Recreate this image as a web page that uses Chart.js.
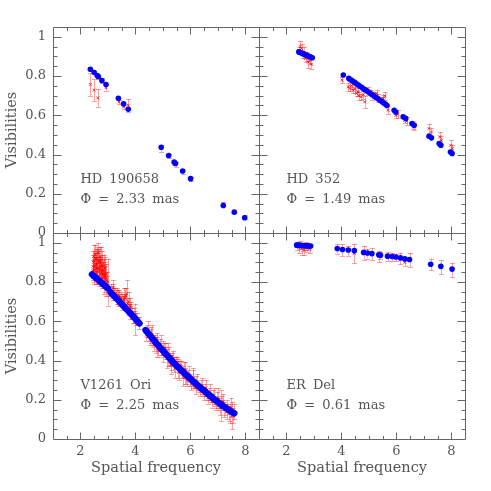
<!DOCTYPE html>
<html><head><meta charset="utf-8">
<script src="https://cdn.jsdelivr.net/npm/chart.js@4.4.1/dist/chart.umd.min.js"></script>
<style>
html,body{margin:0;padding:0;background:#fff}
#wrap{position:relative;width:491px;height:491px;background:#fff}
canvas{position:absolute;left:0;top:0}
</style>
</head><body>
<div id="wrap">
<canvas id="c0" width="491" height="491"></canvas>
<canvas id="c1" width="491" height="491"></canvas>
<canvas id="c2" width="491" height="491"></canvas>
<canvas id="c3" width="491" height="491"></canvas>
</div>
<script>
// ---------- tick labels ----------
const xTicks = [2, 4, 6, 8];
const xTickLabels = ['2', '4', '6', '8'];
const yTicks = [0, 0.2, 0.4, 0.6, 0.8, 1];
const yTickLabels = ['0', '0.2', '0.4', '0.6', '0.8', '1'];
const xTitle = 'Spatial frequency';
const yTitle = 'Visibilities';

const starNames = ['HD 190658', 'HD 352', 'V1261 Ori', 'ER Del'];
const diameters = ['\u03A6 = 2.33 mas', '\u03A6 = 1.49 mas', '\u03A6 = 2.25 mas', '\u03A6 = 0.61 mas'];

// ---------- HD 190658 ----------
const hd190658ModelX = [2.36, 2.50, 2.61, 2.65, 2.78, 2.93, 3.38, 3.57, 3.74, 4.94, 5.21, 5.41, 5.46, 5.72, 6.01, 7.20, 7.60, 7.98];
const hd190658ModelV = [0.835, 0.818, 0.803, 0.798, 0.777, 0.757, 0.687, 0.658, 0.631, 0.437, 0.395, 0.362, 0.354, 0.316, 0.277, 0.140, 0.106, 0.078];
const hd190658ObsX = [2.36, 2.50, 2.63, 2.65, 2.78, 2.93, 3.40, 3.57, 3.74, 4.94, 5.21, 5.41, 5.46, 5.72, 6.01, 7.20, 7.60, 7.98];
const hd190658ObsV = [0.757, 0.728, 0.689, 0.795, 0.777, 0.740, 0.668, 0.643, 0.651, 0.430, 0.392, 0.358, 0.350, 0.313, 0.273, 0.148, 0.110, 0.082];
const hd190658ObsErr = [0.058, 0.055, 0.045, 0.010, 0.012, 0.015, 0.012, 0.010, 0.032, 0.018, 0.012, 0.012, 0.012, 0.010, 0.010, 0.010, 0.010, 0.010];

// ---------- HD 352 ----------
const hd352ModelX = [2.45, 2.50, 2.56, 2.61, 2.67, 2.72, 2.78, 2.83, 2.89, 2.94,
  4.07, 4.27, 4.34, 4.41, 4.48, 4.55, 4.62, 4.69, 4.76, 4.83, 4.90, 4.97, 5.04, 5.11, 5.18, 5.25, 5.32, 5.39, 5.46, 5.53, 5.60, 5.66,
  5.92, 5.98, 6.25, 6.34, 6.57, 6.65, 7.19, 7.28, 7.56, 7.62, 7.97, 8.03];
const hd352ModelV = [0.923, 0.920, 0.917, 0.913, 0.910, 0.907, 0.903, 0.900, 0.897, 0.893,
  0.805, 0.788, 0.781, 0.775, 0.768, 0.761, 0.754, 0.747, 0.740, 0.733, 0.727, 0.720, 0.713, 0.706, 0.699, 0.692, 0.685, 0.678, 0.671, 0.664, 0.657, 0.650,
  0.626, 0.617, 0.592, 0.584, 0.558, 0.549, 0.493, 0.485, 0.456, 0.447, 0.413, 0.405];
const hd352ObsX = [2.45, 2.50, 2.55, 2.60, 2.65, 2.70, 2.75, 2.80, 2.85, 2.90,
  4.03, 4.25, 4.31, 4.37, 4.43, 4.50, 4.55, 4.60, 4.64, 4.73, 4.80, 4.85, 4.97, 5.07, 5.12, 5.19, 5.28, 5.35, 5.46, 5.52, 5.58, 5.70,
  5.98, 6.05, 6.31, 6.38, 6.64, 6.60, 7.19, 7.28, 7.58, 7.64, 7.98, 8.03];
const hd352ObsV = [0.930, 0.950, 0.940, 0.910, 0.920, 0.890, 0.900, 0.870, 0.880, 0.860,
  0.779, 0.745, 0.737, 0.752, 0.728, 0.735, 0.711, 0.720, 0.699, 0.694, 0.705, 0.668, 0.723, 0.716, 0.700, 0.706, 0.711, 0.690, 0.677, 0.685, 0.699, 0.626,
  0.600, 0.605, 0.575, 0.570, 0.541, 0.550, 0.533, 0.515, 0.490, 0.473, 0.447, 0.431];
const hd352ObsErr = [0.020, 0.030, 0.025, 0.020, 0.030, 0.020, 0.025, 0.030, 0.020, 0.025,
  0.015, 0.020, 0.015, 0.020, 0.015, 0.020, 0.015, 0.020, 0.020, 0.015, 0.020, 0.030, 0.020, 0.015, 0.020, 0.015, 0.020, 0.020, 0.015, 0.020, 0.020, 0.020,
  0.015, 0.020, 0.015, 0.020, 0.015, 0.020, 0.025, 0.020, 0.025, 0.020, 0.025, 0.020];

// ---------- V1261 Ori (model curve in three pieces, null = gap) ----------
const v1261ModelX = [2.42, 2.55, 2.70, 2.85, 3.00, 3.05,
  3.10, 3.30, 3.50, 3.70, 3.90, 4.15, 4.26,
  4.37, 4.60, 4.88, 5.10, 5.36, 5.60, 5.85, 6.10, 6.33, 6.60, 6.85, 7.06, 7.30, 7.60];
const v1261ModelV = [0.839, 0.823, 0.805, 0.786, 0.768, null,
  0.747, 0.718, 0.688, 0.658, 0.628, 0.589, null,
  0.555, 0.516, 0.470, 0.435, 0.394, 0.360, 0.327, 0.295, 0.266, 0.235, 0.205, 0.182, 0.158, 0.131];
const v1261ObsX = [2.45, 2.47, 2.50, 2.52, 2.55, 2.57, 2.60, 2.62, 2.65, 2.67, 2.70, 2.72, 2.75, 2.77, 2.80, 2.82, 2.85, 2.87, 2.90, 2.92, 2.95, 2.97, 3.00, 2.48, 2.58, 2.68, 2.78, 2.88,
  2.46, 2.49, 2.51, 2.54, 2.56, 2.59, 2.61, 2.64, 2.66, 2.69, 2.71, 2.74, 2.76, 2.79, 2.81, 2.84, 2.86, 2.89, 2.91, 2.94,
  3.12, 3.18, 3.22, 3.28, 3.32, 3.38, 3.42, 3.48, 3.52, 3.58, 3.62, 3.68, 3.72, 3.78, 3.82, 3.88, 3.92, 3.98, 4.02, 4.08, 4.12,
  3.15, 3.25, 3.35, 3.45, 3.55, 3.65, 3.75, 3.85, 3.95, 4.05, 3.20, 3.40, 3.60, 3.80, 4.00,
  4.42, 4.50, 4.58, 4.65, 4.72, 4.80, 4.88, 4.95, 5.02, 5.10, 5.18, 5.25, 5.32, 5.40, 5.48, 5.55, 5.62, 5.70, 5.78, 5.85, 5.92, 6.00, 6.08, 6.15, 6.22, 6.30, 6.38, 6.45, 6.52, 6.60, 6.68, 6.75, 6.82, 6.90, 6.98, 7.05, 7.12, 7.20, 7.28, 7.35, 7.45, 7.52, 7.58, 4.55, 4.75, 5.05, 5.30, 5.58, 5.80,
  4.40, 4.47, 4.54, 4.62, 4.69, 4.77, 4.84, 4.92, 4.99, 5.07, 5.14, 5.22, 5.29, 5.37, 5.44, 5.52, 5.59, 5.67, 5.74, 5.82, 5.89, 5.96, 6.04, 6.11, 6.19, 6.26, 6.34, 6.42, 6.49, 6.56, 6.64, 6.71, 6.79, 6.86, 6.94, 7.02, 7.09, 7.16, 7.24, 7.32, 7.40, 7.48, 7.55];
const v1261ObsV = [0.86, 0.90, 0.84, 0.88, 0.92, 0.85, 0.89, 0.83, 0.91, 0.87, 0.86, 0.93, 0.84, 0.88, 0.82, 0.86, 0.80, 0.85, 0.83, 0.79, 0.81, 0.78, 0.80, 0.93, 0.87, 0.90, 0.85, 0.84,
  0.88, 0.91, 0.86, 0.94, 0.89, 0.92, 0.87, 0.95, 0.85, 0.90, 0.88, 0.91, 0.86, 0.89, 0.84, 0.88, 0.83, 0.87, 0.82, 0.84,
  0.76, 0.75, 0.74, 0.74, 0.73, 0.72, 0.71, 0.72, 0.70, 0.71, 0.72, 0.74, 0.69, 0.66, 0.65, 0.64, 0.62, 0.61, 0.61, 0.60, 0.59,
  0.75, 0.74, 0.72, 0.71, 0.70, 0.73, 0.70, 0.67, 0.63, 0.61, 0.77, 0.73, 0.72, 0.68, 0.62,
  0.55, 0.52, 0.53, 0.50, 0.51, 0.47, 0.48, 0.45, 0.46, 0.44, 0.43, 0.40, 0.42, 0.38, 0.39, 0.36, 0.37, 0.33, 0.35, 0.31, 0.33, 0.30, 0.31, 0.28, 0.29, 0.26, 0.27, 0.24, 0.25, 0.22, 0.23, 0.21, 0.22, 0.19, 0.20, 0.18, 0.17, 0.19, 0.15, 0.14, 0.13, 0.12, 0.14, 0.53, 0.48, 0.46, 0.38, 0.37, 0.32,
  0.53, 0.56, 0.51, 0.53, 0.48, 0.50, 0.45, 0.48, 0.43, 0.46, 0.41, 0.43, 0.38, 0.41, 0.36, 0.39, 0.34, 0.37, 0.32, 0.35, 0.30, 0.33, 0.28, 0.31, 0.26, 0.29, 0.25, 0.27, 0.23, 0.26, 0.21, 0.24, 0.19, 0.22, 0.18, 0.21, 0.16, 0.19, 0.15, 0.17, 0.13, 0.16, 0.12];
const v1261ObsErr = [0.05, 0.06, 0.04, 0.07, 0.05, 0.06, 0.08, 0.04, 0.06, 0.05, 0.07, 0.05, 0.06, 0.08, 0.05, 0.04, 0.06, 0.07, 0.05, 0.06, 0.04, 0.05, 0.12, 0.06, 0.05, 0.07, 0.05, 0.06,
  0.06, 0.05, 0.07, 0.05, 0.06, 0.06, 0.08, 0.05, 0.07, 0.06, 0.05, 0.07, 0.06, 0.05, 0.07, 0.06, 0.05, 0.06, 0.07, 0.05,
  0.03, 0.04, 0.03, 0.02, 0.04, 0.03, 0.02, 0.03, 0.04, 0.03, 0.05, 0.07, 0.03, 0.03, 0.04, 0.03, 0.03, 0.08, 0.03, 0.02, 0.03,
  0.03, 0.03, 0.04, 0.03, 0.03, 0.04, 0.05, 0.03, 0.04, 0.03, 0.04, 0.03, 0.05, 0.04, 0.03,
  0.03, 0.02, 0.04, 0.03, 0.02, 0.05, 0.03, 0.02, 0.04, 0.03, 0.06, 0.03, 0.02, 0.04, 0.03, 0.05, 0.03, 0.02, 0.04, 0.03, 0.02, 0.03, 0.04, 0.02, 0.03, 0.02, 0.03, 0.02, 0.03, 0.02, 0.03, 0.02, 0.03, 0.02, 0.04, 0.03, 0.08, 0.04, 0.03, 0.04, 0.05, 0.07, 0.04, 0.03, 0.04, 0.03, 0.05, 0.03, 0.04,
  0.03, 0.04, 0.03, 0.05, 0.03, 0.04, 0.03, 0.05, 0.04, 0.03, 0.05, 0.04, 0.03, 0.04, 0.05, 0.03, 0.04, 0.03, 0.05, 0.04, 0.03, 0.04, 0.03, 0.05, 0.03, 0.04, 0.03, 0.04, 0.03, 0.04, 0.03, 0.04, 0.03, 0.04, 0.03, 0.05, 0.04, 0.03, 0.04, 0.03, 0.04, 0.05, 0.04];

// ---------- ER Del ----------
const erDelModelX = [2.37, 2.42, 2.47, 2.52, 2.57, 2.62, 2.67, 2.72, 2.77, 2.82, 2.88,
  3.85, 4.04, 4.25, 4.47, 4.81, 4.95, 5.11, 5.36, 5.42, 5.68, 5.85, 5.98, 6.15, 6.31, 6.48, 7.25, 7.62, 8.03];
const erDelModelV = [0.988, 0.988, 0.987, 0.987, 0.986, 0.986, 0.985, 0.985, 0.985, 0.984, 0.984,
  0.971, 0.966, 0.963, 0.960, 0.951, 0.948, 0.945, 0.939, 0.937, 0.932, 0.930, 0.928, 0.923, 0.918, 0.915, 0.891, 0.880, 0.866];
const erDelObsX = [2.40, 2.45, 2.50, 2.55, 2.60, 2.65, 2.70, 2.75, 2.80, 2.85,
  3.85, 4.04, 4.25, 4.47, 4.81, 4.95, 5.11, 5.36, 5.42, 5.68, 5.85, 5.98, 6.15, 6.31, 6.48, 7.25, 7.62, 8.03];
const erDelObsV = [0.985, 0.975, 0.990, 0.970, 0.980, 0.965, 0.985, 0.975, 0.980, 0.970,
  0.970, 0.963, 0.960, 0.946, 0.949, 0.945, 0.942, 0.930, 0.935, 0.930, 0.928, 0.925, 0.920, 0.900, 0.912, 0.890, 0.875, 0.862];
const erDelObsErr = [0.020, 0.025, 0.020, 0.030, 0.020, 0.025, 0.020, 0.020, 0.015, 0.020,
  0.025, 0.030, 0.025, 0.050, 0.035, 0.025, 0.030, 0.030, 0.020, 0.023, 0.020, 0.020, 0.030, 0.020, 0.035, 0.030, 0.035, 0.035];

// ---------- styling ----------
const FONT = 'DejaVu Serif';
const TEXT = '#555555';
const FRAME = '#666666';
const BLUE = '#0000ff';

function pts(xs, ys) { return xs.map((x, i) => ({ x: x, y: ys[i] })); }

const errorBarPlugin = {
  id: 'errorBars',
  beforeDatasetsDraw(chart) {
    const { ctx } = chart;
    const xs = chart.scales.x, ys = chart.scales.y;
    ctx.save();
    chart.data.datasets.forEach(ds => {
      if (!ds.errors) return;
      ctx.strokeStyle = 'rgba(255,30,30,0.42)';
      ctx.lineWidth = 1;
      ctx.beginPath();
      ds.data.forEach((p, i) => {
        const e = ds.errors[i];
        const px = Math.round(xs.getPixelForValue(p.x)) + 0.5;
        const y1 = ys.getPixelForValue(p.y - e), y2 = ys.getPixelForValue(p.y + e);
        ctx.moveTo(px, y1); ctx.lineTo(px, y2);
        ctx.moveTo(px - 2.5, Math.round(y1) + 0.5); ctx.lineTo(px + 2.5, Math.round(y1) + 0.5);
        ctx.moveTo(px - 2.5, Math.round(y2) + 0.5); ctx.lineTo(px + 2.5, Math.round(y2) + 0.5);
      });
      ctx.stroke();
    });
    ctx.restore();
  }
};

const framePlugin = {
  id: 'frameTicks',
  afterDatasetsDraw(chart) {
    const { ctx, chartArea: a } = chart;
    const xs = chart.scales.x, ys = chart.scales.y;
    ctx.save();
    ctx.strokeStyle = FRAME;
    ctx.lineWidth = 1;
    ctx.beginPath();
    const L = a.left + 0.5, R = a.right + 0.5, T = a.top + 0.5, B = a.bottom + 0.5;
    ctx.rect(L, T, R - L, B - T);
    for (let i = 3; i <= 16; i++) {
      const v = i / 2;
      const len = (i % 4 === 0) ? 7 : 3.5;
      const px = Math.round(xs.getPixelForValue(v)) + 0.5;
      ctx.moveTo(px, B); ctx.lineTo(px, B - len);
      ctx.moveTo(px, T); ctx.lineTo(px, T + len);
    }
    for (let i = 1; i <= 20; i++) {
      const v = i * 0.05;
      const len = (i % 4 === 0) ? 8 : 4;
      const py = Math.round(ys.getPixelForValue(v)) + 0.5;
      ctx.moveTo(L, py); ctx.lineTo(L + len, py);
      ctx.moveTo(R, py); ctx.lineTo(R - len, py);
    }
    ctx.stroke();
    ctx.restore();
  }
};

const labelPlugin = {
  id: 'starLabel',
  afterDraw(chart) {
    const o = chart.options.plugins.starLabel;
    if (!o) return;
    const { ctx } = chart;
    const xs = chart.scales.x, ys = chart.scales.y;
    ctx.save();
    ctx.fillStyle = TEXT;
    ctx.font = '13px "' + FONT + '"';
    try { ctx.wordSpacing = '3px'; } catch (e) {}
    ctx.textAlign = 'left';
    ctx.textBaseline = 'middle';
    ctx.fillText(o.name, xs.getPixelForValue(2.0), ys.getPixelForValue(0.273));
    ctx.fillText(o.diam, xs.getPixelForValue(2.0), ys.getPixelForValue(0.172));
    ctx.restore();
  }
};

function makePanel(id, cfg) {
  const datasets = [];
  const modelDs = {
    label: 'model',
    data: pts(cfg.mx, cfg.mv),
    order: 1,
    backgroundColor: BLUE,
    borderColor: BLUE,
  };
  if (cfg.modelLine) {
    Object.assign(modelDs, { showLine: true, borderWidth: 6.5, pointRadius: 0, borderCapStyle: 'round', borderJoinStyle: 'round', spanGaps: false, tension: 0.3 });
  } else {
    Object.assign(modelDs, { pointRadius: 2.8, pointBorderWidth: 0, pointStyle: 'circle' });
  }
  datasets.push(modelDs);
  datasets.push({
    label: 'obs',
    data: pts(cfg.ox, cfg.ov),
    errors: cfg.oe,
    order: 2,
    pointStyle: 'crossRot',
    pointRadius: 2,
    borderColor: 'rgba(255,0,0,0.8)',
    pointBorderWidth: 1,
    backgroundColor: 'rgba(255,0,0,0.8)'
  });
  new Chart(document.getElementById(id), {
    type: 'scatter',
    data: { datasets },
    plugins: [errorBarPlugin, framePlugin, labelPlugin],
    options: {
      responsive: false,
      animation: false,
      events: [],
      layout: { padding: cfg.pad },
      plugins: { legend: { display: false }, tooltip: { enabled: false }, starLabel: { name: cfg.name, diam: cfg.diam } },
      scales: {
        x: {
          type: 'linear', min: 1, max: 8.5,
          grid: { display: false, drawTicks: false },
          border: { display: false },
          afterBuildTicks: s => { s.ticks = xTicks.map(v => ({ value: v })); },
          afterFit: s => { s.height = cfg.showX ? 52 : 0; s.paddingLeft = 0; s.paddingRight = 0; s.paddingTop = 0; s.paddingBottom = 0; },
          ticks: { display: cfg.showX, autoSkip: false, maxRotation: 0, padding: 5, color: TEXT, font: { family: FONT, size: 13 },
            callback: v => xTickLabels[xTicks.indexOf(v)] },
          title: { display: cfg.showX, text: xTitle, color: TEXT, font: { family: FONT, size: 14.5 }, padding: { top: 0, bottom: 14 } }
        },
        y: {
          type: 'linear', min: 0, max: 1.05,
          grid: { display: false, drawTicks: false },
          border: { display: false },
          afterBuildTicks: s => { s.ticks = yTicks.map(v => ({ value: v })); },
          afterFit: s => { s.width = cfg.showY ? 53 : 0; s.paddingLeft = 0; s.paddingRight = 0; s.paddingTop = 0; s.paddingBottom = 0; },
          ticks: { display: cfg.showY, autoSkip: false, padding: 7, color: TEXT, font: { family: FONT, size: 13 },
            callback: v => yTickLabels[yTicks.indexOf(v)] },
          title: { display: cfg.showY, text: yTitle, color: TEXT, font: { family: FONT, size: 14.5 }, padding: { top: 4, bottom: 0 } }
        }
      }
    }
  });
}

makePanel('c0', { mx: hd190658ModelX, mv: hd190658ModelV, ox: hd190658ObsX, ov: hd190658ObsV, oe: hd190658ObsErr,
  name: starNames[0], diam: diameters[0], showX: false, showY: true, pad: { left: 0, right: 232, top: 27, bottom: 258 } });
makePanel('c1', { mx: hd352ModelX, mv: hd352ModelV, ox: hd352ObsX, ov: hd352ObsV, oe: hd352ObsErr,
  name: starNames[1], diam: diameters[1], showX: false, showY: false, pad: { left: 259, right: 26, top: 27, bottom: 258 } });
makePanel('c2', { mx: v1261ModelX, mv: v1261ModelV, ox: v1261ObsX, ov: v1261ObsV, oe: v1261ObsErr, modelLine: true,
  name: starNames[2], diam: diameters[2], showX: true, showY: true, pad: { left: 0, right: 232, top: 233, bottom: 0 } });
makePanel('c3', { mx: erDelModelX, mv: erDelModelV, ox: erDelObsX, ov: erDelObsV, oe: erDelObsErr,
  name: starNames[3], diam: diameters[3], showX: true, showY: false, pad: { left: 259, right: 26, top: 233, bottom: 0 } });
</script>
</body></html>
